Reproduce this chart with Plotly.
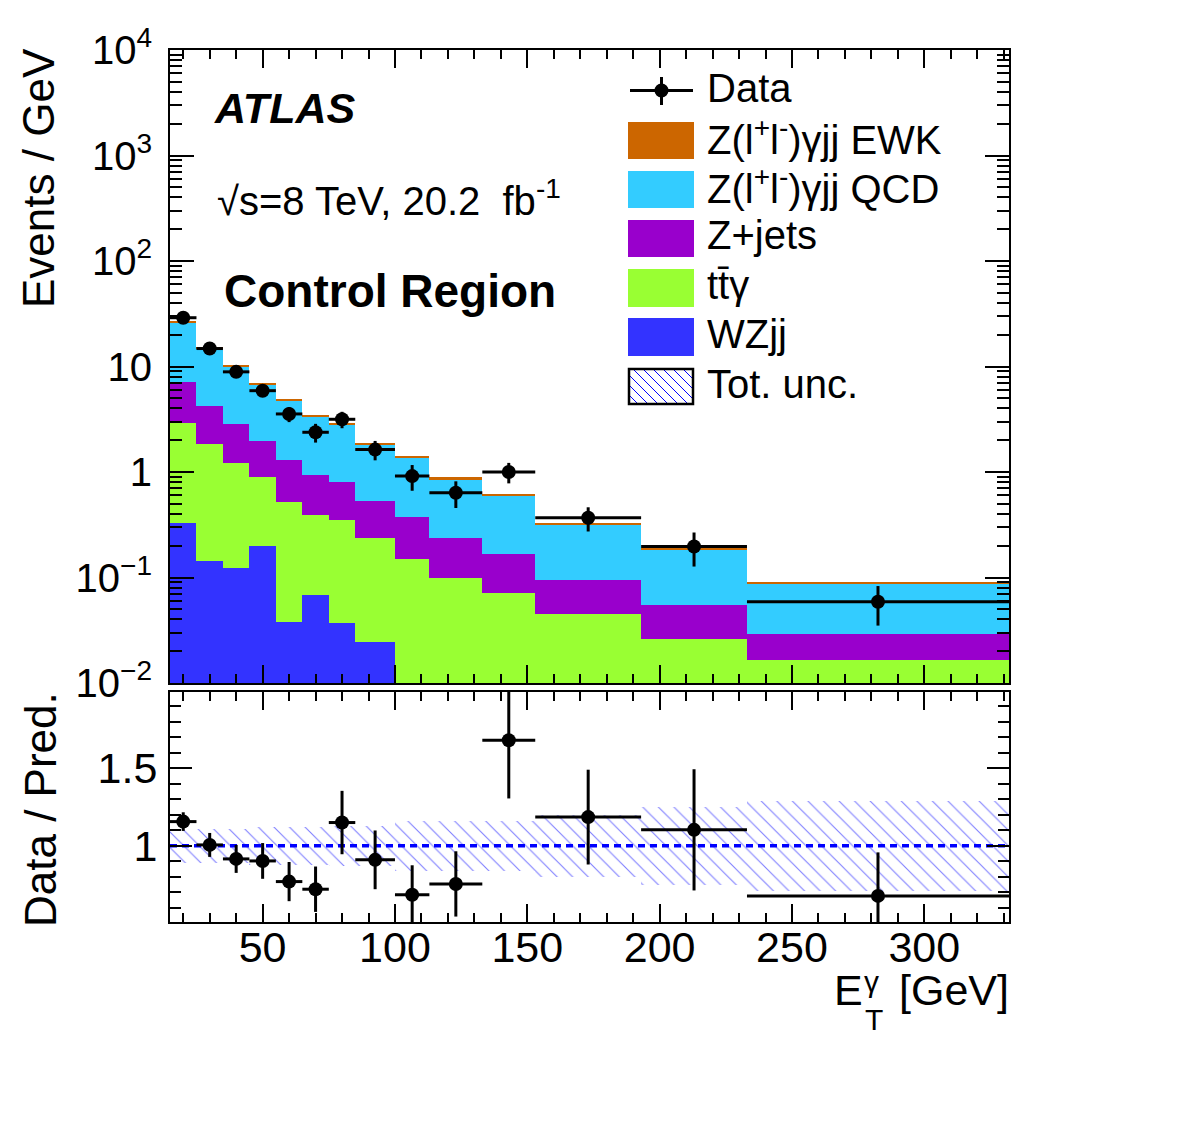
import plotly.graph_objects as go

# ---------------- data ----------------
bin_edges = [15, 25, 35, 45, 55, 65, 75, 85, 100, 113, 133, 153, 193, 233, 332]

wzjj    = [0.327, 0.142, 0.123, 0.197, 0.038, 0.069, 0.037, 0.0245, 0, 0, 0, 0, 0, 0]
ttgamma = [2.61, 1.69, 1.10, 0.69, 0.485, 0.324, 0.315, 0.2115, 0.149, 0.100, 0.0708, 0.0451, 0.0263, 0.0165]
zjets   = [4.21, 2.40, 1.61, 1.06, 0.767, 0.536, 0.448, 0.290, 0.222, 0.139, 0.0972, 0.0497, 0.0281, 0.0128]
zgam_qcd = [18.75, 10.57, 7.17, 4.74, 3.42, 2.42, 2.01, 1.294, 0.989, 0.618, 0.432, 0.2232, 0.1286, 0.0588]
zgam_ewk = [0.6, 0.4, 0.3, 0.2, 0.15, 0.11, 0.09, 0.06, 0.045, 0.03, 0.02, 0.012, 0.007, 0.0035]

data_vals = [29.0, 14.8, 8.9, 5.9, 3.55, 2.38, 3.16, 1.63, 0.914, 0.636, 1.0, 0.368, 0.197, 0.059]
data_errs = [1.5, 1.13, 0.87, 0.75, 0.58, 0.48, 0.56, 0.34, 0.25, 0.18, 0.22, 0.095, 0.07, 0.024]

ratio_vals = [1.156, 1.006, 0.916, 0.903, 0.770, 0.721, 1.150, 0.910, 0.685, 0.755, 1.680, 1.185, 1.103, 0.678]
ratio_errs = [0.06, 0.077, 0.09, 0.115, 0.126, 0.146, 0.204, 0.189, 0.19, 0.21, 0.375, 0.305, 0.39, 0.28]
unc_band   = [0.11, 0.11, 0.11, 0.12, 0.12, 0.12, 0.13, 0.13, 0.16, 0.16, 0.16, 0.20, 0.25, 0.29]

y_tickvals = [0.01, 0.1, 1, 10, 100, 1000, 10000]
y_ticktext = ["10<sup>\u22122</sup>", "10<sup>\u22121</sup>", "1", "10", "10<sup>2</sup>", "10<sup>3</sup>", "10<sup>4</sup>"]
r_tickvals = [1, 1.5]
r_ticktext = ["1", "1.5"]
x_tickvals = [50, 100, 150, 200, 250, 300]

colors = {
    "ewk": "#CC6600",
    "qcd": "#33CCFF",
    "zjets": "#9900CC",
    "tty": "#99FF33",
    "wz": "#3333FF",
}

# ---------------- geometry ----------------
W, H = 1182, 1144
ML, MR, MT, MB = 170, 173, 50, 222
PW, PH = W - ML - MR, H - MT - MB
FONT = "Liberation Sans, Arial, sans-serif"


def px(x):
    return (x - ML) / PW


def py(y):
    return (H - MB - y) / PH


centers = [(a + b) / 2 for a, b in zip(bin_edges[:-1], bin_edges[1:])]
widths = [b - a for a, b in zip(bin_edges[:-1], bin_edges[1:])]
halfw = [w / 2 for w in widths]

fig = go.Figure()

stack = [
    ("WZjj", wzjj, colors["wz"]),
    ("tt\u0304\u03b3", ttgamma, colors["tty"]),
    ("Z+jets", zjets, colors["zjets"]),
    ("QCD", zgam_qcd, colors["qcd"]),
    ("EWK", zgam_ewk, colors["ewk"]),
]
for name, vals, col in stack:
    fig.add_trace(go.Bar(
        x=centers, y=vals, width=widths, name=name,
        marker=dict(color=col, line=dict(width=0)),
        xaxis="x", yaxis="y", hoverinfo="skip",
    ))

fig.add_trace(go.Scatter(
    x=centers, y=data_vals, mode="markers", name="Data",
    marker=dict(color="black", size=14),
    error_x=dict(type="data", array=halfw, width=0, thickness=3, color="black"),
    error_y=dict(type="data", array=data_errs, width=0, thickness=3, color="black"),
    xaxis="x", yaxis="y",
))

# ratio panel: uncertainty band
fig.add_trace(go.Bar(
    x=centers, y=[2 * u for u in unc_band], base=[1 - u for u in unc_band], width=widths,
    marker=dict(color="rgba(0,0,0,0)", line=dict(width=0),
                pattern=dict(shape="\\", fgcolor="#0000FF", bgcolor="rgba(0,0,0,0)",
                             size=11, solidity=0.1)),
    xaxis="x2", yaxis="y2", hoverinfo="skip",
))
fig.add_trace(go.Scatter(
    x=[bin_edges[0], bin_edges[-1]], y=[1, 1], mode="lines",
    line=dict(color="#0000FF", width=3.5, dash="7px,5px"),
    xaxis="x2", yaxis="y2", hoverinfo="skip",
))
fig.add_trace(go.Scatter(
    x=centers, y=ratio_vals, mode="markers",
    marker=dict(color="black", size=14),
    error_x=dict(type="data", array=halfw, width=0, thickness=3, color="black"),
    error_y=dict(type="data", array=ratio_errs, width=0, thickness=3, color="black"),
    xaxis="x2", yaxis="y2",
))

axis_common = dict(showline=True, linecolor="black", linewidth=2, mirror="allticks",
                   ticks="inside", tickcolor="black", tickwidth=2, showgrid=False,
                   zeroline=False)

xminor = [v for v in range(20, 331, 10) if v % 50 != 0]
ylog_minor = [m * 10 ** k for k in range(-2, 4) for m in range(2, 10)]
r_minor = [0.6, 0.7, 0.8, 0.9, 1.1, 1.2, 1.3, 1.4, 1.6, 1.7, 1.8, 1.9]

fig.update_layout(
    width=W, height=H,
    margin=dict(l=ML, r=MR, t=MT, b=MB, autoexpand=False),
    paper_bgcolor="white", plot_bgcolor="white",
    barmode="stack", bargap=0, showlegend=False,
    font=dict(family=FONT, color="black"),
    xaxis=dict(**axis_common, domain=[0, 1], anchor="y", range=[bin_edges[0], bin_edges[-1]],
               tickmode="array", tickvals=x_tickvals, showticklabels=False, ticklen=18,
               minor=dict(ticks="inside", tickmode="array", tickvals=xminor, ticklen=9,
                          tickcolor="black", tickwidth=2)),
    yaxis=dict(**axis_common, domain=[py(683), 1], anchor="x", type="log", range=[-2, 4],
               tickmode="array", tickvals=y_tickvals, ticktext=y_ticktext, ticklen=24,
               tickfont=dict(size=40, family=FONT), ticklabelstandoff=8,
               minor=dict(ticks="inside", tickmode="array", tickvals=ylog_minor, ticklen=12,
                          tickcolor="black", tickwidth=2)),
    xaxis2=dict(**axis_common, domain=[0, 1], anchor="y2", range=[bin_edges[0], bin_edges[-1]],
                tickmode="array", tickvals=x_tickvals, ticklen=18,
                tickfont=dict(size=43, family=FONT), ticklabelstandoff=-14,
                minor=dict(ticks="inside", tickmode="array", tickvals=xminor, ticklen=9,
                           tickcolor="black", tickwidth=2)),
    yaxis2=dict(**axis_common, domain=[0, py(692)], anchor="x2", range=[0.51, 1.99],
                tickmode="array", tickvals=r_tickvals, ticktext=r_ticktext, ticklen=22,
                tickfont=dict(size=43, family=FONT), ticklabelstandoff=2,
                minor=dict(ticks="inside", tickmode="array", tickvals=r_minor, ticklen=11,
                           tickcolor="black", tickwidth=2)),
)

ann = []


def text(x, y, s, size, xanchor="left", angle=0, yanchor="middle"):
    ann.append(dict(x=px(x), y=py(y), xref="paper", yref="paper", text=s, showarrow=False,
                    xanchor=xanchor, yanchor=yanchor, textangle=angle, borderpad=0,
                    font=dict(size=size, family=FONT, color="black")))


text(213, 108, "<b><i>ATLAS</i></b>", 43)
text(216, 198, "\u221as=8 TeV, 20.2  fb<sup>-1</sup>", 40)
text(223, 291, "<b>Control Region</b>", 46)

# axis titles
text(38, 178, "Events / GeV", 44, xanchor="center", angle=-90)
text(40, 810, "Data / Pred.", 44, xanchor="center", angle=-90)
text(833, 990, "E", 43)
text(864, 1019, "T", 30)
text(863, 981, "\u03b3", 30)
text(1010, 990, "[GeV]", 43, xanchor="right")

# legend
shapes = []
leg_x0, leg_x1 = 628, 694
leg_text_x = 706
entries = [
    ("Z(l<sup>+</sup>l<sup>-</sup>)\u03b3jj EWK", colors["ewk"], 122, 159, 137),
    ("Z(l<sup>+</sup>l<sup>-</sup>)\u03b3jj QCD", colors["qcd"], 171, 208, 186),
    ("Z+jets", colors["zjets"], 220, 257, 235),
    ("tt\u0304\u03b3", colors["tty"], 269, 307, 285),
    ("WZjj", colors["wz"], 318, 356, 334),
]
for label, col, y0, y1, ty in entries:
    shapes.append(dict(type="rect", xref="paper", yref="paper", x0=px(leg_x0), x1=px(leg_x1),
                       y0=py(y1), y1=py(y0), fillcolor=col, line=dict(width=0)))
    text(leg_text_x, ty, label, 40)

# Data entry
shapes.append(dict(type="line", xref="paper", yref="paper", x0=px(630), x1=px(693),
                   y0=py(90.5), y1=py(90.5), line=dict(color="black", width=3)))
shapes.append(dict(type="line", xref="paper", yref="paper", x0=px(661.5), x1=px(661.5),
                   y0=py(77), y1=py(105), line=dict(color="black", width=3)))
shapes.append(dict(type="circle", xref="paper", yref="paper", x0=px(654.5), x1=px(668.5),
                   y0=py(97.5), y1=py(83.5), fillcolor="black", line=dict(width=0)))
text(leg_text_x, 88, "Data", 40)

# Tot. unc. entry (hatched box)
bx0, bx1, by0, by1 = 629, 693, 369, 404
step = 10
c = by0 - bx1
while c < by1 - bx0:
    xa = max(bx0, by0 - c)
    xb = min(bx1, by1 - c)
    if xb > xa:
        shapes.append(dict(type="line", xref="paper", yref="paper", x0=px(xa), x1=px(xb),
                           y0=py(xa + c), y1=py(xb + c), line=dict(color="#0000FF", width=1)))
    c += step
shapes.append(dict(type="rect", xref="paper", yref="paper", x0=px(bx0), x1=px(bx1),
                   y0=py(by1), y1=py(by0), line=dict(color="black", width=2.5)))
text(leg_text_x, 384, "Tot. unc.", 40)

fig.update_layout(annotations=ann, shapes=shapes)

fig.write_html("out.html")
